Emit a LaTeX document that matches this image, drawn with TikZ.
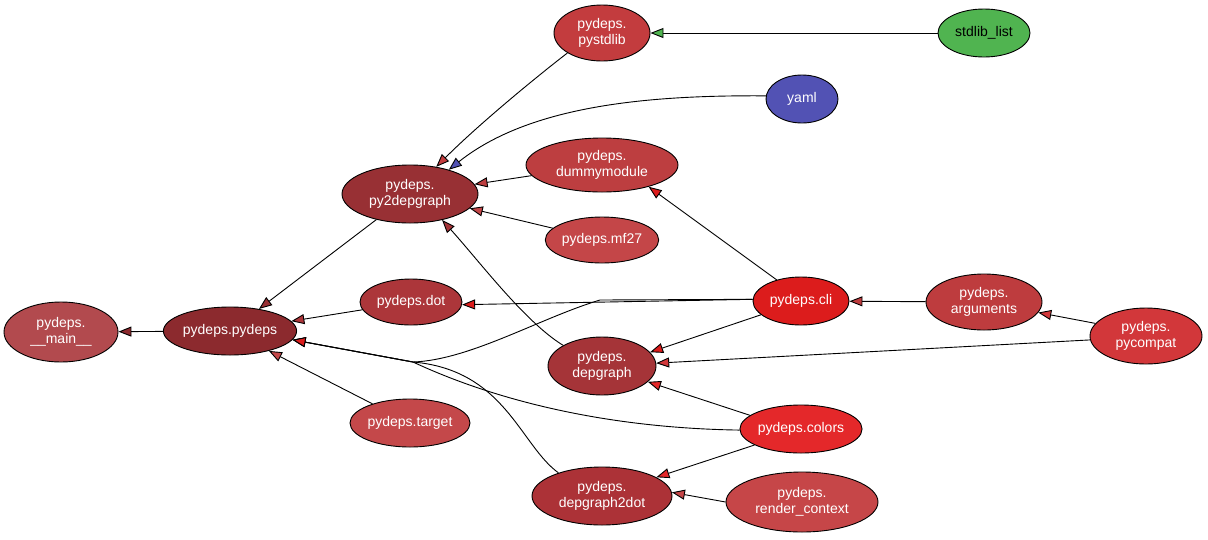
\documentclass[tikz,border=0pt]{standalone}
\usepackage{fontspec}
\setmainfont{Liberation Sans}
\usetikzlibrary{shapes.geometric,arrows.meta}
\definecolor{cmain}{RGB}{178,74,78}
\definecolor{cpydeps}{RGB}{140,42,46}
\definecolor{cpy2}{RGB}{152,48,52}
\definecolor{cstd}{RGB}{195,60,62}
\definecolor{cdummy}{RGB}{189,62,64}
\definecolor{cmf}{RGB}{196,70,72}
\definecolor{cdot}{RGB}{172,54,58}
\definecolor{cdepg}{RGB}{165,52,56}
\definecolor{ccli}{RGB}{220,28,28}
\definecolor{cargs}{RGB}{190,60,62}
\definecolor{ccompat}{RGB}{210,55,58}
\definecolor{ctarget}{RGB}{196,72,74}
\definecolor{ccolors}{RGB}{228,40,42}
\definecolor{cd2d}{RGB}{172,50,55}
\definecolor{crender}{RGB}{198,70,72}
\definecolor{cstdlist}{RGB}{80,180,80}
\definecolor{cyaml}{RGB}{82,82,180}
\begin{document}
\begin{tikzpicture}[x=1pt,y=-1pt,
  mod/.style={ellipse, draw=black, line width=0.9pt, text=white, inner sep=0pt,
    font=\fontsize{14}{16}\selectfont, align=center},
  dep/.style={draw=black, line width=0.9pt, -{Triangle[length=13pt,width=10pt,fill=#1]}},
]
\useasboundingbox (0,0) rectangle (1208,539);
% nodes
\node[mod, fill=cmain, minimum width=114pt, minimum height=60pt] (main) at (61,332) {pydeps.\\\_\_main\_\_};
\node[mod, fill=cpydeps, minimum width=130pt, minimum height=48pt] (pydeps) at (230,331) {pydeps.pydeps};
\node[mod, fill=cpy2, minimum width=136pt, minimum height=58pt] (py2) at (410,194) {pydeps.\\py2depgraph};
\node[mod, fill=cdummy, minimum width=152pt, minimum height=54pt] (dummy) at (602,165) {pydeps.\\dummymodule};
\node[mod, fill=cmf, minimum width=112pt, minimum height=46pt] (mf) at (602,240) {pydeps.mf27};
\node[mod, fill=cstd, minimum width=96pt, minimum height=56pt] (pystd) at (602,33) {pydeps.\\pystdlib};
\node[mod, fill=cstdlist, text=black, minimum width=92pt, minimum height=48pt] (stdlist) at (984,33) {stdlib\_list};
\node[mod, fill=cyaml, minimum width=72pt, minimum height=48pt] (yaml) at (802,99) {yaml};
\node[mod, fill=cdot, minimum width=102pt, minimum height=46pt] (dot) at (411,302) {pydeps.dot};
\node[mod, fill=cdepg, minimum width=108pt, minimum height=58pt] (depg) at (602,366) {pydeps.\\depgraph};
\node[mod, fill=ccli, minimum width=96pt, minimum height=48pt] (cli) at (801,301) {pydeps.cli};
\node[mod, fill=cargs, minimum width=116pt, minimum height=56pt] (args) at (984,302) {pydeps.\\arguments};
\node[mod, fill=ccompat, minimum width=112pt, minimum height=56pt] (compat) at (1146,336) {pydeps.\\pycompat};
\node[mod, fill=ctarget, minimum width=118pt, minimum height=48pt] (target) at (410,423) {pydeps.target};
\node[mod, fill=ccolors, minimum width=120pt, minimum height=48pt] (colors) at (801,429) {pydeps.colors};
\node[mod, fill=cd2d, minimum width=140pt, minimum height=58pt] (d2d) at (602,496) {pydeps.\\depgraph2dot};
\node[mod, fill=crender, minimum width=152pt, minimum height=60pt] (render) at (802,502) {pydeps.\\render\_context};
% merge points
\coordinate (g) at (600,300);
\coordinate (m) at (413,362);
% edges
\draw[dep=cstdlist] (stdlist) -- (pystd);
\draw[dep=cstd] (pystd.210) .. controls (535,78) and (478,125) .. (py2.46);
\draw[dep=cyaml] (yaml.175) .. controls (650,95) and (530,105) .. (py2.32);
\draw[dep=cdummy] (dummy) -- (py2);
\draw[dep=cmf] (mf) -- (py2);
\draw[dep=cpy2] (py2) -- (pydeps);
\draw[dep=cpydeps] (pydeps) -- (main);
\draw[dep=cdot] (dot) -- (pydeps);
\draw[dep=ctarget] (target) -- (pydeps);
\draw[dep=cdepg] (depg.152) .. controls (525,322) and (480,262) .. (py2.-39);
\draw[dep=cd2d] (d2d.152) .. controls (520,445) and (505,370) .. (m) -- (pydeps.-8);
\draw[dep=ccolors] (colors.181) .. controls (600,428) and (490,398) .. (m) -- (pydeps.-8);
\draw[dep=ccli] (cli.178) -- (g) .. controls (540,318) and (470,360) .. (m) -- (pydeps.-8);
\draw[dep=ccli] (cli.178) -- (dot.-3);
\draw[dep=ccli] (cli.139) -- (dummy.-25);
\draw[dep=ccli] (cli.199) -- (depg.16);
\draw[dep=ccompat] (compat.184) -- (depg.3);
\draw[dep=ccolors] (colors.165) -- (depg.-19);
\draw[dep=ccolors] (colors.199) -- (d2d.19);
\draw[dep=crender] (render.180) -- (d2d.3);
\draw[dep=cargs] (args) -- (cli);
\draw[dep=ccompat] (compat.166) -- (args.-11);
\end{tikzpicture}
\end{document}
